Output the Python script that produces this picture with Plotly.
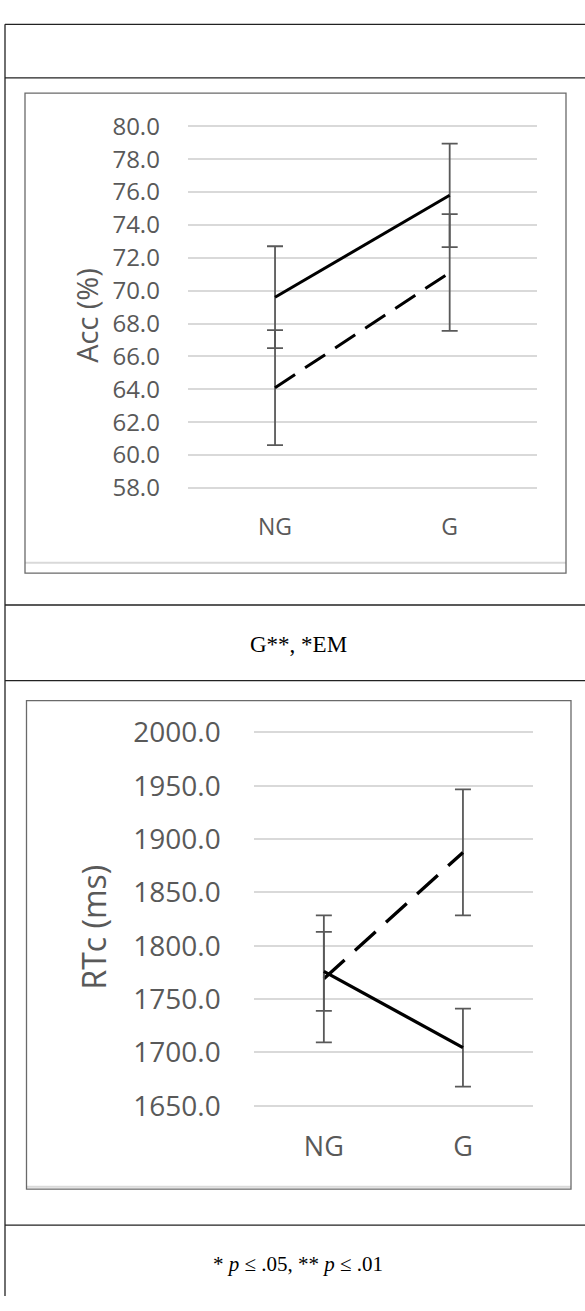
import plotly.graph_objects as go

W, H = 585, 1311

categories = ["NG", "G"]

acc_solid = [69.6, 75.8]
acc_solid_err = [3.1, 3.15]
acc_dashed = [64.1, 71.1]
acc_dashed_err = [3.5, 3.55]
acc_ticks = [58, 60, 62, 64, 66, 68, 70, 72, 74, 76, 78, 80]

rt_solid = [1776, 1704.5]
rt_solid_err = [37, 36.5]
rt_dashed = [1769, 1887.5]
rt_dashed_err = [59.5, 59]
rt_ticks = [1650, 1700, 1750, 1800, 1850, 1900, 1950, 2000]

row_note = "G**, *EM"
footnote = "* <i>p</i> ≤ .05, ** <i>p</i> ≤ .01"
acc_title = "Acc (%)"
rt_title = "RTc (ms)"


def px(x):
    return x / W


def py(y):
    return 1 - y / H


GRID = "#d9d9d9"
TXT = "#595959"
ERR = "#595959"
FONT = "Open Sans"

fig = go.Figure()


def add_series(vals, errs, dash, width, xa, ya):
    fig.add_trace(go.Scatter(
        x=categories, y=vals, mode="lines",
        line=dict(color="black", width=width, dash=dash),
        error_y=dict(type="data", array=errs, visible=True,
                     color=ERR, thickness=1.8, width=8),
        xaxis=xa, yaxis=ya, showlegend=False, hoverinfo="skip",
    ))


add_series(acc_dashed, acc_dashed_err, "24px,12px", 3, "x", "y")
add_series(acc_solid, acc_solid_err, "solid", 3, "x", "y")
add_series(rt_dashed, rt_dashed_err, "28px,14px", 3.3, "x2", "y2")
add_series(rt_solid, rt_solid_err, "solid", 3.3, "x2", "y2")

# padding (> 1px) so that the edge gridlines (58/80, 1650/2000) are drawn
a_pad = 0.2
a_ppu = (482.7 - 112) / 22.0
r_pad = 3.0
r_ppu = (1116 - 733.3) / 350.0

fig.update_layout(
    width=W, height=H,
    margin=dict(l=0, r=0, t=0, b=0),
    paper_bgcolor="white", plot_bgcolor="white",
    showlegend=False,
    xaxis=dict(domain=[px(187.7), px(537)], anchor="y", range=[-0.5, 1.5],
               type="category", showgrid=False, zeroline=False, showline=False,
               ticks="outside", ticklen=19 - a_pad * a_ppu,
               tickcolor="rgba(0,0,0,0)",
               tickfont=dict(family=FONT, size=23, color=TXT)),
    yaxis=dict(domain=[py(482.7 + a_pad * a_ppu), py(112 - a_pad * a_ppu)],
               anchor="x", range=[58 - a_pad, 80 + a_pad],
               tickvals=acc_ticks, ticktext=[f"{v:.1f}" for v in acc_ticks],
               showgrid=True, gridcolor=GRID, gridwidth=2, zeroline=False,
               showline=False, ticks="outside", ticklen=22,
               tickcolor="rgba(0,0,0,0)",
               tickfont=dict(family=FONT, size=24, color=TXT)),
    xaxis2=dict(domain=[px(254.3), px(532.5)], anchor="y2", range=[-0.5, 1.5],
                type="category", showgrid=False, zeroline=False, showline=False,
                ticks="outside", ticklen=17 - r_pad * r_ppu,
                tickcolor="rgba(0,0,0,0)",
                tickfont=dict(family=FONT, size=27, color=TXT)),
    yaxis2=dict(domain=[py(1116 + r_pad * r_ppu), py(733.3 - r_pad * r_ppu)],
                anchor="x2", range=[1650 - r_pad, 2000 + r_pad],
                tickvals=rt_ticks, ticktext=[f"{v:.1f}" for v in rt_ticks],
                showgrid=True, gridcolor=GRID, gridwidth=2, zeroline=False,
                showline=False, ticks="outside", ticklen=27,
                tickcolor="rgba(0,0,0,0)",
                tickfont=dict(family=FONT, size=28, color=TXT)),
)

shapes = []
# outer table
shapes.append(dict(type="line", xref="paper", yref="paper",
                   x0=px(5), x1=px(5), y0=py(7.5), y1=0,
                   line=dict(color="#222", width=1.3)))
for yy in [7.5, 62.5, 602.7, 680.2, 1238.3]:
    shapes.append(dict(type="line", xref="paper", yref="paper",
                       x0=px(5), x1=1, y0=py(yy), y1=py(yy),
                       line=dict(color="#222", width=1.3)))
# chart boxes
for (l, r, t, b, inner) in [(25, 566, 78, 570, 559.3),
                             (26.5, 571, 700.7, 1201.5, 1199)]:
    shapes.append(dict(type="line", xref="paper", yref="paper",
                       x0=px(l), x1=px(r), y0=py(inner), y1=py(inner),
                       line=dict(color=GRID, width=2)))
    shapes.append(dict(type="rect", xref="paper", yref="paper",
                       x0=px(l), x1=px(r), y0=py(b), y1=py(t),
                       line=dict(color="#6a6a6a", width=1.3),
                       fillcolor="rgba(0,0,0,0)"))
fig.update_layout(shapes=shapes)

ann = [
    dict(text=acc_title, x=px(85.8), y=py(305.5), textangle=-90,
         font=dict(family=FONT, size=29, color=TXT)),
    dict(text=rt_title, x=px(93.8), y=py(932.5), textangle=-90,
         font=dict(family=FONT, size=32, color=TXT)),
    dict(text=row_note, x=px(298.6), y=py(643),
         font=dict(family="Liberation Serif", size=23, color="black")),
    dict(text=footnote, x=px(298), y=py(1278),
         font=dict(family="Liberation Serif", size=21, color="black")),
]
for a in ann:
    a.update(xref="paper", yref="paper", showarrow=False,
             xanchor="center", yanchor="middle")
fig.update_layout(annotations=ann)

fig.write_html("out.html", config={"displayModeBar": False},
               post_script="document.body.style.margin='0';")
